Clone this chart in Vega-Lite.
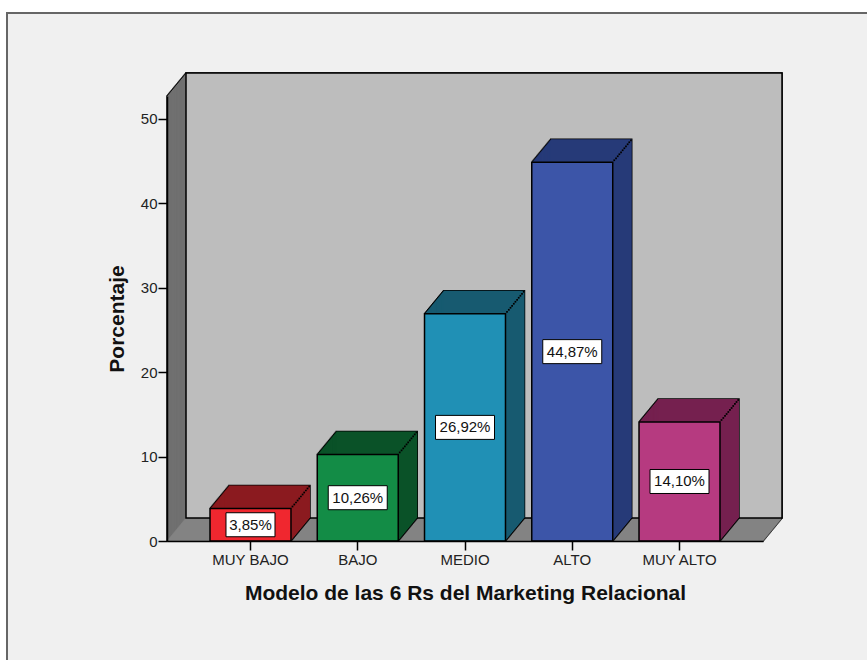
{"$schema":"https://vega.github.io/schema/vega-lite/v6.json","width":596,"height":445,"autosize":{"type":"none"},"padding":{"left":167,"top":96,"right":104,"bottom":119},"background":"#ffffff","view":{"stroke":null},"config":{"font":"Liberation Sans"},"data":{"values":[{"nivel":"MUY BAJO","porcentaje":3.85,"etiqueta":"3,85%"},{"nivel":"BAJO","porcentaje":10.26,"etiqueta":"10,26%"},{"nivel":"MEDIO","porcentaje":26.92,"etiqueta":"26,92%"},{"nivel":"ALTO","porcentaje":44.87,"etiqueta":"44,87%"},{"nivel":"MUY ALTO","porcentaje":14.10,"etiqueta":"14,10%"}]},"resolve":{"scale":{"x":"independent","y":"independent"}},"layer":[
{"data":{"values":[{}]},"encoding":{"x":{"datum":0,"type":"quantitative","scale":{"domain":[0,1],"nice":false},"axis":null},"x2":{"datum":1},"y":{"datum":0,"type":"quantitative","scale":{"domain":[0,52.72],"nice":false},"axis":null}},"layer":[
{"encoding":{"y2":{"datum":52.72}},"layer":[
{"mark":{"type":"rect","fill":"#f0f0f0","stroke":"#666666","strokeWidth":2,"xOffset":-160,"x2Offset":110,"yOffset":125,"y2Offset":-83}},
{"encoding":{"fill":{"value":"#000"},"stroke":{"value":"#000"},"strokeWidth":{"value":1.5}},"layer":[{"mark":{"type":"rect"}},{"mark":{"type":"rect","xOffset":0.83,"x2Offset":0.83,"yOffset":-1,"y2Offset":-1}},{"mark":{"type":"rect","xOffset":1.65,"x2Offset":1.65,"yOffset":-2,"y2Offset":-2}},{"mark":{"type":"rect","xOffset":2.48,"x2Offset":2.48,"yOffset":-3,"y2Offset":-3}},{"mark":{"type":"rect","xOffset":3.3,"x2Offset":3.3,"yOffset":-4,"y2Offset":-4}},{"mark":{"type":"rect","xOffset":4.13,"x2Offset":4.13,"yOffset":-5,"y2Offset":-5}},{"mark":{"type":"rect","xOffset":4.96,"x2Offset":4.96,"yOffset":-6,"y2Offset":-6}},{"mark":{"type":"rect","xOffset":5.78,"x2Offset":5.78,"yOffset":-7,"y2Offset":-7}},{"mark":{"type":"rect","xOffset":6.61,"x2Offset":6.61,"yOffset":-8,"y2Offset":-8}},{"mark":{"type":"rect","xOffset":7.43,"x2Offset":7.43,"yOffset":-9,"y2Offset":-9}},{"mark":{"type":"rect","xOffset":8.26,"x2Offset":8.26,"yOffset":-10,"y2Offset":-10}},{"mark":{"type":"rect","xOffset":9.09,"x2Offset":9.09,"yOffset":-11,"y2Offset":-11}},{"mark":{"type":"rect","xOffset":9.91,"x2Offset":9.91,"yOffset":-12,"y2Offset":-12}},{"mark":{"type":"rect","xOffset":10.74,"x2Offset":10.74,"yOffset":-13,"y2Offset":-13}},{"mark":{"type":"rect","xOffset":11.57,"x2Offset":11.57,"yOffset":-14,"y2Offset":-14}},{"mark":{"type":"rect","xOffset":12.39,"x2Offset":12.39,"yOffset":-15,"y2Offset":-15}},{"mark":{"type":"rect","xOffset":13.22,"x2Offset":13.22,"yOffset":-16,"y2Offset":-16}},{"mark":{"type":"rect","xOffset":14.04,"x2Offset":14.04,"yOffset":-17,"y2Offset":-17}},{"mark":{"type":"rect","xOffset":14.87,"x2Offset":14.87,"yOffset":-18,"y2Offset":-18}},{"mark":{"type":"rect","xOffset":15.7,"x2Offset":15.7,"yOffset":-19,"y2Offset":-19}},{"mark":{"type":"rect","xOffset":16.52,"x2Offset":16.52,"yOffset":-20,"y2Offset":-20}},{"mark":{"type":"rect","xOffset":17.35,"x2Offset":17.35,"yOffset":-21,"y2Offset":-21}},{"mark":{"type":"rect","xOffset":18.17,"x2Offset":18.17,"yOffset":-22,"y2Offset":-22}},{"mark":{"type":"rect","xOffset":19,"x2Offset":19,"yOffset":-23,"y2Offset":-23}}]},
{"encoding":{"fill":{"value":"#707070"}},"layer":[{"mark":{"type":"rect"}},{"mark":{"type":"rect","xOffset":0.83,"x2Offset":0.83,"yOffset":-1,"y2Offset":-1}},{"mark":{"type":"rect","xOffset":1.65,"x2Offset":1.65,"yOffset":-2,"y2Offset":-2}},{"mark":{"type":"rect","xOffset":2.48,"x2Offset":2.48,"yOffset":-3,"y2Offset":-3}},{"mark":{"type":"rect","xOffset":3.3,"x2Offset":3.3,"yOffset":-4,"y2Offset":-4}},{"mark":{"type":"rect","xOffset":4.13,"x2Offset":4.13,"yOffset":-5,"y2Offset":-5}},{"mark":{"type":"rect","xOffset":4.96,"x2Offset":4.96,"yOffset":-6,"y2Offset":-6}},{"mark":{"type":"rect","xOffset":5.78,"x2Offset":5.78,"yOffset":-7,"y2Offset":-7}},{"mark":{"type":"rect","xOffset":6.61,"x2Offset":6.61,"yOffset":-8,"y2Offset":-8}},{"mark":{"type":"rect","xOffset":7.43,"x2Offset":7.43,"yOffset":-9,"y2Offset":-9}},{"mark":{"type":"rect","xOffset":8.26,"x2Offset":8.26,"yOffset":-10,"y2Offset":-10}},{"mark":{"type":"rect","xOffset":9.09,"x2Offset":9.09,"yOffset":-11,"y2Offset":-11}},{"mark":{"type":"rect","xOffset":9.91,"x2Offset":9.91,"yOffset":-12,"y2Offset":-12}},{"mark":{"type":"rect","xOffset":10.74,"x2Offset":10.74,"yOffset":-13,"y2Offset":-13}},{"mark":{"type":"rect","xOffset":11.57,"x2Offset":11.57,"yOffset":-14,"y2Offset":-14}},{"mark":{"type":"rect","xOffset":12.39,"x2Offset":12.39,"yOffset":-15,"y2Offset":-15}},{"mark":{"type":"rect","xOffset":13.22,"x2Offset":13.22,"yOffset":-16,"y2Offset":-16}},{"mark":{"type":"rect","xOffset":14.04,"x2Offset":14.04,"yOffset":-17,"y2Offset":-17}},{"mark":{"type":"rect","xOffset":14.87,"x2Offset":14.87,"yOffset":-18,"y2Offset":-18}},{"mark":{"type":"rect","xOffset":15.7,"x2Offset":15.7,"yOffset":-19,"y2Offset":-19}},{"mark":{"type":"rect","xOffset":16.52,"x2Offset":16.52,"yOffset":-20,"y2Offset":-20}},{"mark":{"type":"rect","xOffset":17.35,"x2Offset":17.35,"yOffset":-21,"y2Offset":-21}},{"mark":{"type":"rect","xOffset":18.17,"x2Offset":18.17,"yOffset":-22,"y2Offset":-22}},{"mark":{"type":"rect","xOffset":19,"x2Offset":19,"yOffset":-23,"y2Offset":-23}}]}
]},
{"encoding":{"stroke":{"value":"#858585"},"strokeWidth":{"value":1.6}},"layer":[{"mark":{"type":"rule","xOffset":0.83,"x2Offset":0.83,"yOffset":-1}},{"mark":{"type":"rule","xOffset":1.65,"x2Offset":1.65,"yOffset":-2}},{"mark":{"type":"rule","xOffset":2.48,"x2Offset":2.48,"yOffset":-3}},{"mark":{"type":"rule","xOffset":3.3,"x2Offset":3.3,"yOffset":-4}},{"mark":{"type":"rule","xOffset":4.13,"x2Offset":4.13,"yOffset":-5}},{"mark":{"type":"rule","xOffset":4.96,"x2Offset":4.96,"yOffset":-6}},{"mark":{"type":"rule","xOffset":5.78,"x2Offset":5.78,"yOffset":-7}},{"mark":{"type":"rule","xOffset":6.61,"x2Offset":6.61,"yOffset":-8}},{"mark":{"type":"rule","xOffset":7.43,"x2Offset":7.43,"yOffset":-9}},{"mark":{"type":"rule","xOffset":8.26,"x2Offset":8.26,"yOffset":-10}},{"mark":{"type":"rule","xOffset":9.09,"x2Offset":9.09,"yOffset":-11}},{"mark":{"type":"rule","xOffset":9.91,"x2Offset":9.91,"yOffset":-12}},{"mark":{"type":"rule","xOffset":10.74,"x2Offset":10.74,"yOffset":-13}},{"mark":{"type":"rule","xOffset":11.57,"x2Offset":11.57,"yOffset":-14}},{"mark":{"type":"rule","xOffset":12.39,"x2Offset":12.39,"yOffset":-15}},{"mark":{"type":"rule","xOffset":13.22,"x2Offset":13.22,"yOffset":-16}},{"mark":{"type":"rule","xOffset":14.04,"x2Offset":14.04,"yOffset":-17}},{"mark":{"type":"rule","xOffset":14.87,"x2Offset":14.87,"yOffset":-18}},{"mark":{"type":"rule","xOffset":15.7,"x2Offset":15.7,"yOffset":-19}},{"mark":{"type":"rule","xOffset":16.52,"x2Offset":16.52,"yOffset":-20}},{"mark":{"type":"rule","xOffset":17.35,"x2Offset":17.35,"yOffset":-21}},{"mark":{"type":"rule","xOffset":18.17,"x2Offset":18.17,"yOffset":-22}}]},
{"encoding":{"y2":{"datum":52.72}},"mark":{"type":"rect","fill":"#bdbdbd","stroke":"#000","strokeWidth":1.5,"xOffset":19,"x2Offset":19,"yOffset":-23,"y2Offset":-23}}
]},
{"encoding":{"x":{"field":"nivel","type":"nominal","sort":null,"scale":{"type":"band","paddingInner":0.245,"paddingOuter":0.401},"axis":{"title":"Modelo de las 6 Rs del Marketing Relacional","titleFontSize":21,"titleFontWeight":"bold","titleColor":"#111111","titleLimit":600,"titlePadding":15,"labelFontSize":15,"labelColor":"#222222","labelAngle":0,"labelPadding":2,"tickColor":"#000","tickSize":9,"tickWidth":1.5,"domainColor":"#000","domainWidth":1.5,"zindex":1}},"y":{"field":"porcentaje","type":"quantitative","scale":{"domain":[0,52.72],"nice":false},"axis":{"title":"Porcentaje","titleFontSize":21,"titleFontWeight":"bold","titleColor":"#111111","titlePadding":13,"values":[0,10,20,30,40,50],"grid":false,"labelFontSize":15,"labelColor":"#222222","labelPadding":1,"tickColor":"#000","tickSize":9,"tickWidth":1.5,"domainColor":"#000","domainWidth":1.5,"zindex":1}}},"layer":[
{"encoding":{"y2":{"datum":0},"fill":{"value":"#000"},"stroke":{"value":"#000"},"strokeWidth":{"value":1.5}},"layer":[{"mark":{"type":"bar","xOffset":0.83,"x2Offset":0.83,"yOffset":-1,"y2Offset":-1}},{"mark":{"type":"bar","xOffset":1.65,"x2Offset":1.65,"yOffset":-2,"y2Offset":-2}},{"mark":{"type":"bar","xOffset":2.48,"x2Offset":2.48,"yOffset":-3,"y2Offset":-3}},{"mark":{"type":"bar","xOffset":3.3,"x2Offset":3.3,"yOffset":-4,"y2Offset":-4}},{"mark":{"type":"bar","xOffset":4.13,"x2Offset":4.13,"yOffset":-5,"y2Offset":-5}},{"mark":{"type":"bar","xOffset":4.96,"x2Offset":4.96,"yOffset":-6,"y2Offset":-6}},{"mark":{"type":"bar","xOffset":5.78,"x2Offset":5.78,"yOffset":-7,"y2Offset":-7}},{"mark":{"type":"bar","xOffset":6.61,"x2Offset":6.61,"yOffset":-8,"y2Offset":-8}},{"mark":{"type":"bar","xOffset":7.43,"x2Offset":7.43,"yOffset":-9,"y2Offset":-9}},{"mark":{"type":"bar","xOffset":8.26,"x2Offset":8.26,"yOffset":-10,"y2Offset":-10}},{"mark":{"type":"bar","xOffset":9.09,"x2Offset":9.09,"yOffset":-11,"y2Offset":-11}},{"mark":{"type":"bar","xOffset":9.91,"x2Offset":9.91,"yOffset":-12,"y2Offset":-12}},{"mark":{"type":"bar","xOffset":10.74,"x2Offset":10.74,"yOffset":-13,"y2Offset":-13}},{"mark":{"type":"bar","xOffset":11.57,"x2Offset":11.57,"yOffset":-14,"y2Offset":-14}},{"mark":{"type":"bar","xOffset":12.39,"x2Offset":12.39,"yOffset":-15,"y2Offset":-15}},{"mark":{"type":"bar","xOffset":13.22,"x2Offset":13.22,"yOffset":-16,"y2Offset":-16}},{"mark":{"type":"bar","xOffset":14.04,"x2Offset":14.04,"yOffset":-17,"y2Offset":-17}},{"mark":{"type":"bar","xOffset":14.87,"x2Offset":14.87,"yOffset":-18,"y2Offset":-18}},{"mark":{"type":"bar","xOffset":15.7,"x2Offset":15.7,"yOffset":-19,"y2Offset":-19}},{"mark":{"type":"bar","xOffset":16.52,"x2Offset":16.52,"yOffset":-20,"y2Offset":-20}},{"mark":{"type":"bar","xOffset":17.35,"x2Offset":17.35,"yOffset":-21,"y2Offset":-21}},{"mark":{"type":"bar","xOffset":18.17,"x2Offset":18.17,"yOffset":-22,"y2Offset":-22}},{"mark":{"type":"bar","xOffset":19,"x2Offset":19,"yOffset":-23,"y2Offset":-23}}]},
{"encoding":{"y2":{"datum":0},"fill":{"field":"nivel","type":"nominal","sort":null,"legend":null,"scale":{"domain":["MUY BAJO","BAJO","MEDIO","ALTO","MUY ALTO"],"range":["#8b1a1f","#0a5228","#175a70","#263a78","#75204f"]}}},"layer":[{"mark":{"type":"bar","xOffset":0.83,"x2Offset":0.83,"yOffset":-1,"y2Offset":-1}},{"mark":{"type":"bar","xOffset":1.65,"x2Offset":1.65,"yOffset":-2,"y2Offset":-2}},{"mark":{"type":"bar","xOffset":2.48,"x2Offset":2.48,"yOffset":-3,"y2Offset":-3}},{"mark":{"type":"bar","xOffset":3.3,"x2Offset":3.3,"yOffset":-4,"y2Offset":-4}},{"mark":{"type":"bar","xOffset":4.13,"x2Offset":4.13,"yOffset":-5,"y2Offset":-5}},{"mark":{"type":"bar","xOffset":4.96,"x2Offset":4.96,"yOffset":-6,"y2Offset":-6}},{"mark":{"type":"bar","xOffset":5.78,"x2Offset":5.78,"yOffset":-7,"y2Offset":-7}},{"mark":{"type":"bar","xOffset":6.61,"x2Offset":6.61,"yOffset":-8,"y2Offset":-8}},{"mark":{"type":"bar","xOffset":7.43,"x2Offset":7.43,"yOffset":-9,"y2Offset":-9}},{"mark":{"type":"bar","xOffset":8.26,"x2Offset":8.26,"yOffset":-10,"y2Offset":-10}},{"mark":{"type":"bar","xOffset":9.09,"x2Offset":9.09,"yOffset":-11,"y2Offset":-11}},{"mark":{"type":"bar","xOffset":9.91,"x2Offset":9.91,"yOffset":-12,"y2Offset":-12}},{"mark":{"type":"bar","xOffset":10.74,"x2Offset":10.74,"yOffset":-13,"y2Offset":-13}},{"mark":{"type":"bar","xOffset":11.57,"x2Offset":11.57,"yOffset":-14,"y2Offset":-14}},{"mark":{"type":"bar","xOffset":12.39,"x2Offset":12.39,"yOffset":-15,"y2Offset":-15}},{"mark":{"type":"bar","xOffset":13.22,"x2Offset":13.22,"yOffset":-16,"y2Offset":-16}},{"mark":{"type":"bar","xOffset":14.04,"x2Offset":14.04,"yOffset":-17,"y2Offset":-17}},{"mark":{"type":"bar","xOffset":14.87,"x2Offset":14.87,"yOffset":-18,"y2Offset":-18}},{"mark":{"type":"bar","xOffset":15.7,"x2Offset":15.7,"yOffset":-19,"y2Offset":-19}},{"mark":{"type":"bar","xOffset":16.52,"x2Offset":16.52,"yOffset":-20,"y2Offset":-20}},{"mark":{"type":"bar","xOffset":17.35,"x2Offset":17.35,"yOffset":-21,"y2Offset":-21}},{"mark":{"type":"bar","xOffset":18.17,"x2Offset":18.17,"yOffset":-22,"y2Offset":-22}},{"mark":{"type":"bar","xOffset":19,"x2Offset":19,"yOffset":-23,"y2Offset":-23}}]},
{"mark":{"type":"bar","stroke":"#000","strokeWidth":1.5},"encoding":{"y2":{"datum":0},"color":{"field":"nivel","type":"nominal","sort":null,"legend":null,"scale":{"domain":["MUY BAJO","BAJO","MEDIO","ALTO","MUY ALTO"],"range":["#f0272f","#138c46","#2090b5","#3c55a8","#b63a80"]}}}},
{"encoding":{"fill":{"value":"#000"},"size":{"value":3},"opacity":{"value":1}},"layer":[{"mark":{"type":"point","shape":"square","filled":true,"xOffset":42,"yOffset":-2}},{"mark":{"type":"point","shape":"square","filled":true,"xOffset":43.8,"yOffset":-4}},{"mark":{"type":"point","shape":"square","filled":true,"xOffset":45.5,"yOffset":-6}},{"mark":{"type":"point","shape":"square","filled":true,"xOffset":47.1,"yOffset":-8}},{"mark":{"type":"point","shape":"square","filled":true,"xOffset":48.8,"yOffset":-10}},{"mark":{"type":"point","shape":"square","filled":true,"xOffset":50.4,"yOffset":-12}},{"mark":{"type":"point","shape":"square","filled":true,"xOffset":52.1,"yOffset":-14}},{"mark":{"type":"point","shape":"square","filled":true,"xOffset":53.7,"yOffset":-16}},{"mark":{"type":"point","shape":"square","filled":true,"xOffset":55.4,"yOffset":-18}},{"mark":{"type":"point","shape":"square","filled":true,"xOffset":57,"yOffset":-20}},{"mark":{"type":"point","shape":"square","filled":true,"xOffset":58.7,"yOffset":-22}}]}
]},
{"encoding":{"x":{"field":"nivel","type":"nominal","sort":null,"scale":{"type":"band","paddingInner":0.245,"paddingOuter":0.401},"axis":null},"y":{"field":"porcentaje","type":"quantitative","scale":{"domain":[0,105.44],"nice":false},"axis":null}},"layer":[
{"transform":[{"filter":"datum.porcentaje < 10"}],"mark":{"type":"point","shape":"M-1,-0.49H1V0.49H-1Z","size":2401,"filled":true,"fill":"#fff","stroke":"#000","strokeWidth":1,"opacity":1}},
{"transform":[{"filter":"datum.porcentaje >= 10"}],"mark":{"type":"point","shape":"M-1,-0.407H1V0.407H-1Z","size":3481,"filled":true,"fill":"#fff","stroke":"#000","strokeWidth":1,"opacity":1}},
{"mark":{"type":"text","fontSize":15,"color":"#111111"},"encoding":{"text":{"field":"etiqueta"}}}
]}
]}
